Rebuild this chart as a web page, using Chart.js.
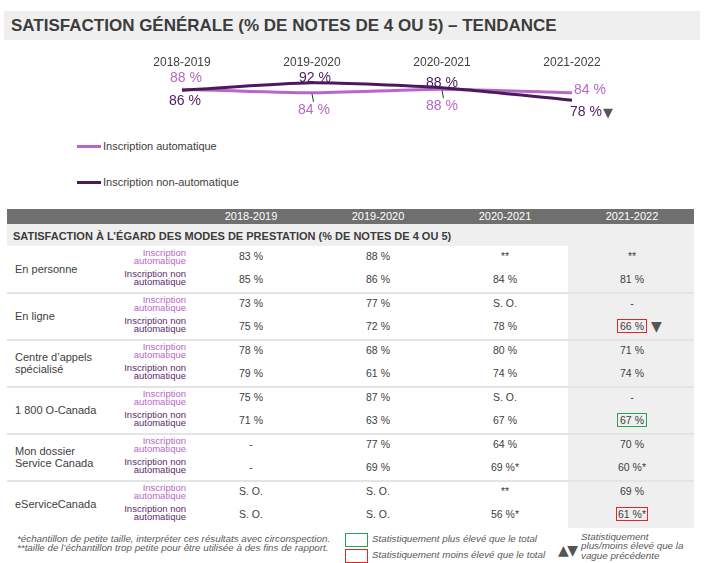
<!DOCTYPE html>
<html>
<head>
<meta charset="utf-8">
<script src="https://cdn.jsdelivr.net/npm/chart.js@4.4.0/dist/chart.umd.min.js"></script>
<style>
  body { margin: 0; width: 708px; height: 563px; background: #fff; position: relative; overflow: hidden;
         font-family: "Liberation Sans", Arial, sans-serif; color: #404040; }
  .abs { position: absolute; white-space: nowrap; }
  .narrow { font-family: "Liberation Sans Narrow", "Arial Narrow", "Liberation Sans", sans-serif; }
  .box { position: absolute; }
  .note { font-style: italic; color: #595959; font-size: 9.8px; }
</style>
</head>
<body>
<div id="page"></div>
<div class="abs" style="left:0;top:45px;width:708px;height:80px;">
  <canvas id="trend" width="708" height="80"></canvas>
</div>
<script>
// trend chart
const years = ["2018-2019", "2019-2020", "2020-2021", "2021-2022"];
const autoSeries = [88, 84, 88, 84];
const nonAutoSeries = [86, 92, 88, 78];
const seriesNames = ["Inscription automatique", "Inscription non-automatique"];
const nonAutoWaveFlags = ["", "", "", "down"];

// table
const channels = ["En personne", "En ligne", "Centre d’appels\nspécialisé", "1 800 O-Canada", "Mon dossier\nService Canada", "eServiceCanada"];
const autoRows = [
  ["83 %", "88 %", "**", "**"],
  ["73 %", "77 %", "S. O.", "-"],
  ["78 %", "68 %", "80 %", "71 %"],
  ["75 %", "87 %", "S. O.", "-"],
  ["-", "77 %", "64 %", "70 %"],
  ["S. O.", "S. O.", "**", "69 %"],
];
const nonAutoRows = [
  ["85 %", "86 %", "84 %", "81 %"],
  ["75 %", "72 %", "78 %", "66 %"],
  ["79 %", "61 %", "74 %", "74 %"],
  ["71 %", "63 %", "67 %", "67 %"],
  ["-", "69 %", "69 %*", "60 %*"],
  ["S. O.", "S. O.", "56 %*", "61 %*"],
];
// 2021-2022 non-auto cell: compared with total, compared with previous wave
const vsTotal = ["", "lower", "", "higher", "", "lower"];
const vsPrevWave = ["", "down", "", "", "", ""];

const TITLE = "SATISFACTION GÉNÉRALE (% DE NOTES DE 4 OU 5) – TENDANCE";
const SECTION = "SATISFACTION À L’ÉGARD DES MODES DE PRESTATION (% DE NOTES DE 4 OU 5)";
const subLabels = ["Inscription\nautomatique", "Inscription non\nautomatique"];
const notes = [
  "*échantillon de petite taille, interpréter ces résultats avec circonspection.",
  "**taille de l’échantillon trop petite pour être utilisée à des fins de rapport.",
];
const keyTexts = ["Statistiquement plus élevé que le total", "Statistiquement moins élevé que le total",
  "Statistiquement\nplus/moins élevé que la\nvague précédente"];

const AUTO = "#b866c8", NONAUTO = "#4b1a5c", TXT = "#404040";
const page = document.getElementById("page");

function el(cls, css, text) {
  const d = document.createElement("div");
  d.className = "abs " + (cls || "");
  d.style.cssText = css;
  if (text != null) d.textContent = text;
  page.appendChild(d);
  return d;
}
// text centred vertically on yc; lh = line height
function txt(text, x, yc, size, css, align, lh) {
  lh = lh || Math.round(size * 1.2);
  const lines = text.split("\n").length;
  let pos = "left:" + x + "px;";
  if (align === "center") pos = "left:" + (x - 100) + "px;width:200px;text-align:center;";
  if (align === "right") pos = "left:" + (x - 200) + "px;width:200px;text-align:right;";
  return el("", pos + "top:" + (yc - lh * lines / 2) + "px;line-height:" + lh + "px;font-size:" + size +
    "px;white-space:pre;" + (css || ""), text);
}

// title bar
el("", "left:4px;top:11px;width:696px;height:29px;background:#efefef;");
txt(TITLE, 11, 25.5, 17, "font-weight:bold;color:#3c3c3c;", "left").classList.add("narrow");

// legend
[[AUTO, 146], [NONAUTO, 182]].forEach(([c, y], i) => {
  el("", "left:77px;top:" + (y - 1.5) + "px;width:24px;height:3px;background:" + c + ";");
  txt(seriesNames[i], 103, y, 11, "color:" + TXT + ";", "left");
});

// table frame
const COLS = [251, 378, 505, 632];
const L = 7, R = 694, G0 = 246, GH = 47;
el("", "left:568px;top:224px;width:" + (R - 568) + "px;height:" + (G0 + GH * 6 - 224) + "px;background:#efefef;");
el("", "left:" + L + "px;top:209px;width:" + (R - L) + "px;height:15px;background:#6f6f6f;");
years.forEach((y, i) => txt(y, COLS[i], 216.5, 11, "color:#fff;", "center"));
el("", "left:" + L + "px;top:224px;width:" + (R - L) + "px;height:" + (G0 - 224) + "px;background:#efefef;");
txt(SECTION, 13, 236, 11, "font-weight:bold;color:#3c3c3c;", "left").classList.add("narrow");

channels.forEach((name, g) => {
  const top = G0 + g * GH;
  if (g > 0) el("", "left:" + L + "px;top:" + (top - 1) + "px;width:" + (R - L) + "px;height:2px;background:#e4e4e4;");
  txt(name, 15, top + 23, 11, "color:" + TXT + ";", "left", 12);
  txt(subLabels[0], 186, top + 11, 9.5, "color:" + AUTO + ";", "right", 8.5).classList.add("narrow");
  txt(subLabels[1], 186, top + 32, 9.5, "color:#5c2a6c;", "right", 8.5).classList.add("narrow");
  autoRows[g].forEach((v, c) => txt(v, COLS[c], top + 10, 10.5, "color:" + TXT + ";", "center"));
  nonAutoRows[g].forEach((v, c) => txt(v, COLS[c], top + 33, 10.5, "color:" + TXT + ";", "center"));
  if (vsTotal[g]) {
    const w = nonAutoRows[g][3].includes("*") ? 32 : 30;
    el("box", "left:" + (COLS[3] - w / 2) + "px;top:" + (top + 26) + "px;width:" + (w - 2) + "px;height:12px;border:1px solid " +
      (vsTotal[g] === "higher" ? "#1fa84f" : "#e3242b") + ";");
  }
  if (vsPrevWave[g]) txt(vsPrevWave[g] === "down" ? "▼" : "▲", 651, top + 33, 14, "color:#555;font-family:'DejaVu Sans';", "left");
});

// footnotes and key
txt(notes.join("\n"), 17, 542.5, 9.8, "", "left", 9).classList.add("note");
el("", "left:345px;top:533px;width:21px;height:12px;border:1px solid #1fa84f;");
el("", "left:345px;top:549px;width:21px;height:12px;border:1px solid #e3242b;");
txt(keyTexts[0], 372, 539, 9.8, "", "left").classList.add("note");
txt(keyTexts[1], 372, 555, 9.8, "", "left").classList.add("note");
txt("▲▼", 558, 550, 14, "color:#555;letter-spacing:-1.5px;font-family:'DejaVu Sans';", "left");
txt(keyTexts[2], 581, 546, 9.8, "", "left", 9.5).classList.add("note");

// ---- line chart ----
const autoLabelPlace = [[4, -11, "center"], [2, 17, "center"], [0, 17, "center"], [2, -3, "left"]];
const nonAutoLabelPlace = [[3, 11, "center"], [3, -5, "center"], [0, -5, "center"], [-2, 12, "left"]];

const trendLabels = {
  id: "trendLabels",
  afterDatasetsDraw(chart) {
    const ctx = chart.ctx;
    const xs = chart.scales.x;
    ctx.save();
    ctx.font = '12px "Liberation Sans", Arial, sans-serif';
    ctx.fillStyle = TXT;
    ctx.textAlign = "center";
    ctx.textBaseline = "middle";
    years.forEach((y, i) => ctx.fillText(y, xs.getPixelForValue(i), 18));

    chart.data.datasets.forEach((ds, di) => {
      const meta = chart.getDatasetMeta(di);
      const place = ds.label === seriesNames[0] ? autoLabelPlace : nonAutoLabelPlace;
      meta.data.forEach((pt, i) => {
        const [dx, dy, align] = place[i];
        const s = ds.data[i] + " %";
        if (dy >= 15) {
          ctx.strokeStyle = "#333";
          ctx.lineWidth = 1;
          ctx.beginPath();
          ctx.moveTo(pt.x, pt.y + 1);
          ctx.lineTo(pt.x + 1.5, pt.y + dy - 8);
          ctx.stroke();
        }
        ctx.font = '14px "Liberation Sans", Arial, sans-serif';
        ctx.fillStyle = ds.borderColor;
        ctx.textAlign = align;
        ctx.fillText(s, pt.x + dx, pt.y + dy);
        if (ds.label === seriesNames[1] && nonAutoWaveFlags[i] === "down") {
          const w = ctx.measureText(s).width;
          ctx.fillStyle = "#555";
          ctx.font = '13px "DejaVu Sans", sans-serif';
          ctx.textAlign = "left";
          ctx.fillText("▼", pt.x + dx + w + 1, pt.y + dy + 1);
        }
      });
    });
    ctx.restore();
  },
};

new Chart(document.getElementById("trend"), {
  type: "line",
  data: {
    labels: years,
    datasets: [
      { label: seriesNames[0], data: autoSeries, yAxisID: "y2", borderColor: AUTO, borderWidth: 3,
        pointRadius: 0, tension: 0.2, order: 1, clip: false },
      { label: seriesNames[1], data: nonAutoSeries, yAxisID: "y", borderColor: NONAUTO, borderWidth: 3,
        pointRadius: 0, tension: 0.2, order: 0, clip: false },
    ],
  },
  options: {
    responsive: false,
    animation: false,
    layout: { padding: { left: 182, right: 136, top: 28, bottom: 15 } },
    plugins: { legend: { display: false }, tooltip: { enabled: false } },
    scales: {
      x: { display: false },
      y: { display: false, min: 70, max: 100 },
      y2: { display: false, min: 65, max: 106 },
    },
  },
  plugins: [trendLabels],
});
</script>
</body>
</html>
